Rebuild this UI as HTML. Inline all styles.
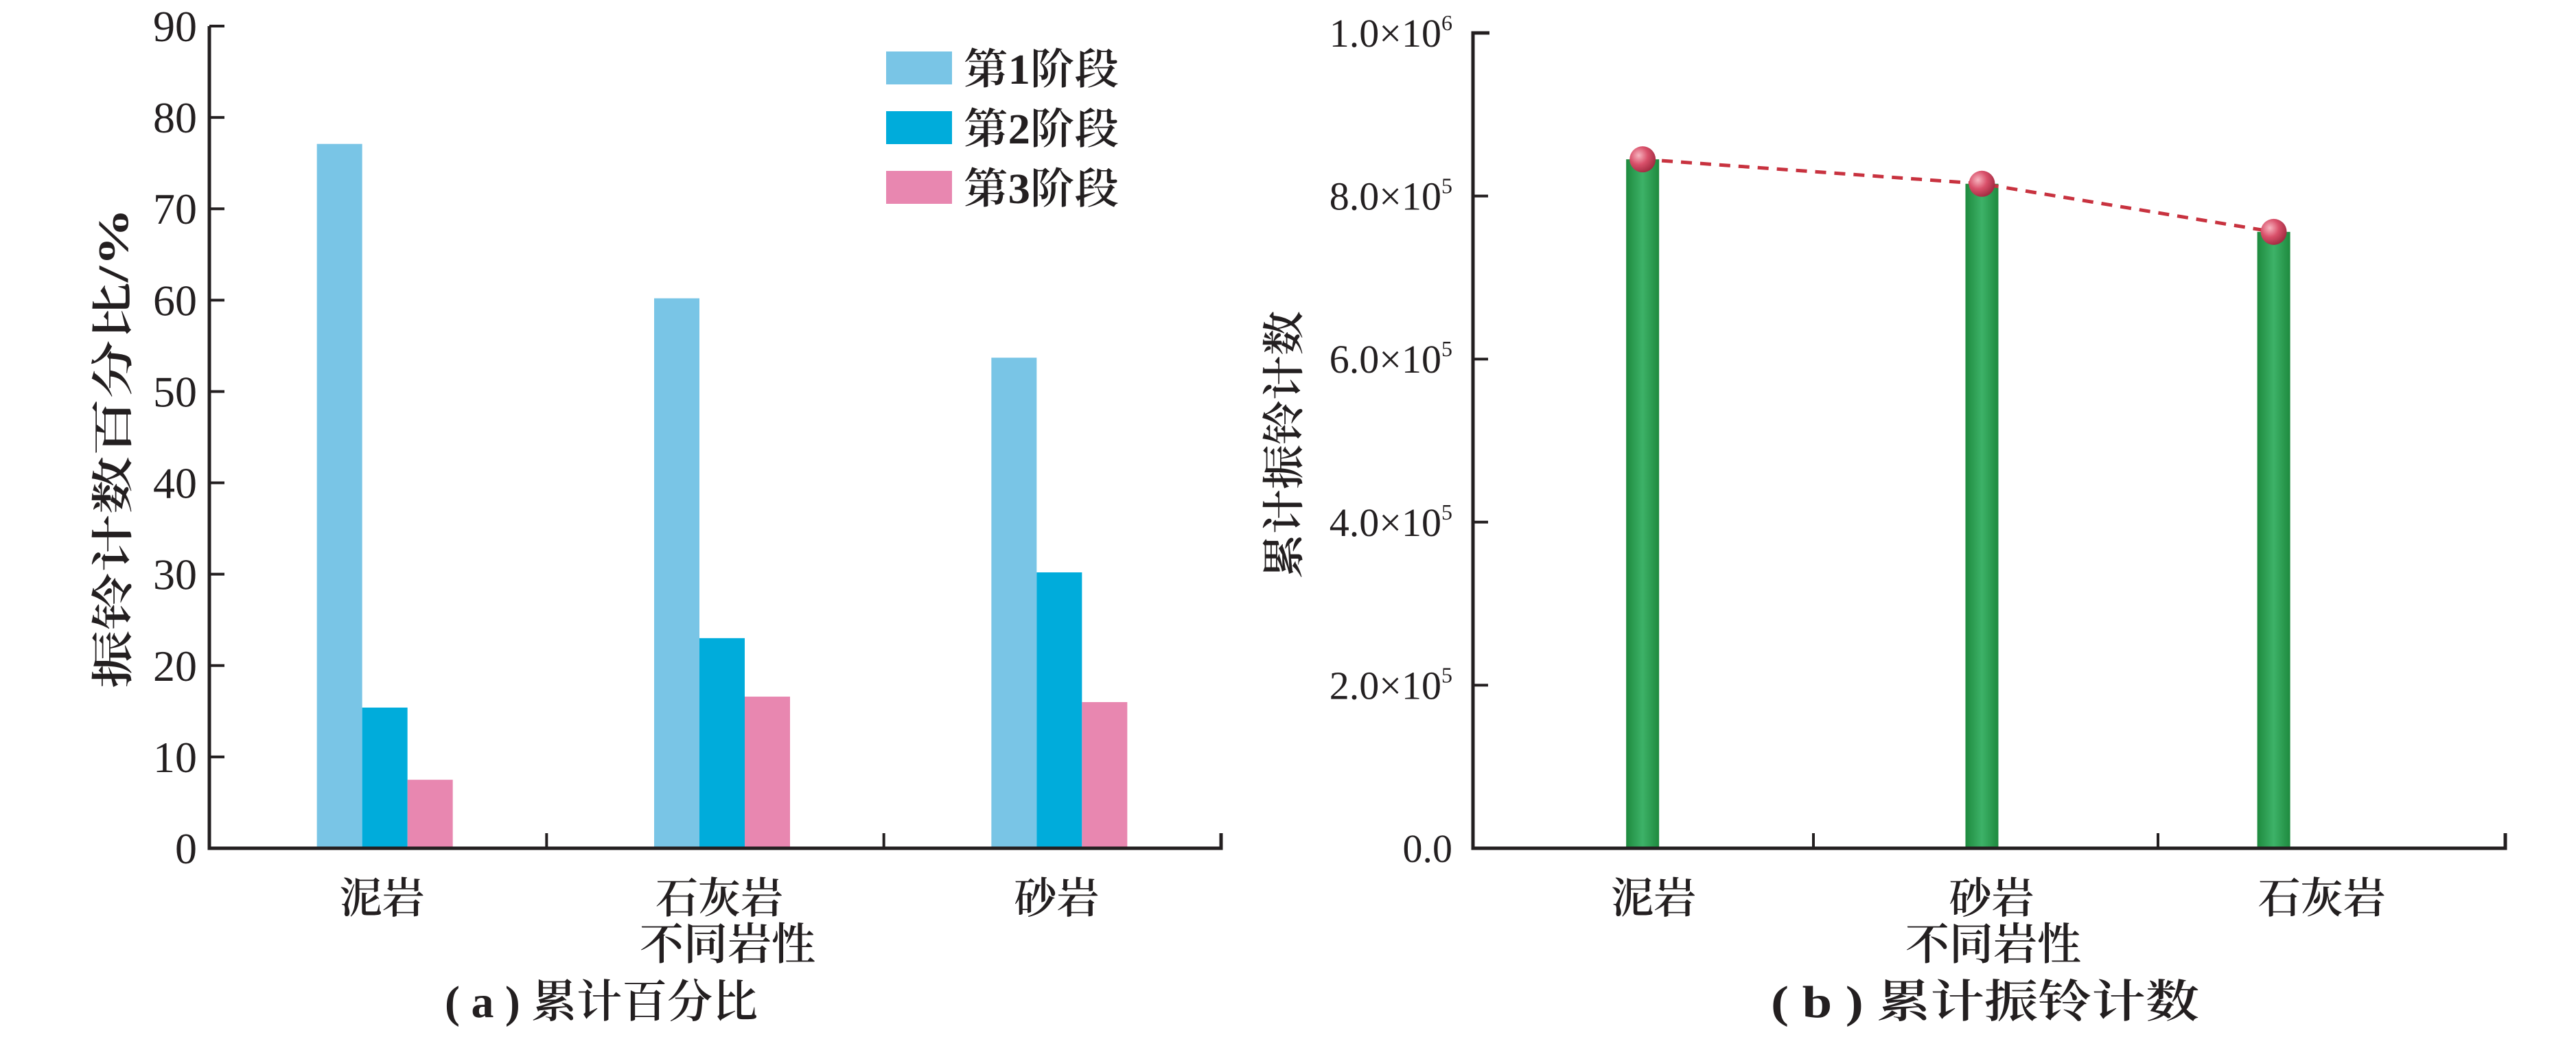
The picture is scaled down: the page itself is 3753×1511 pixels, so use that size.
<!DOCTYPE html>
<html><head><meta charset="utf-8"><style>
html,body{margin:0;padding:0;background:#fff;}
svg{display:block;}
text{font-family:"Liberation Serif","Noto Serif CJK SC",serif;fill:#231f20;font-weight:600;}
text.num{font-weight:400;}
</style></head><body>
<svg id="root" width="3753" height="1511" viewBox="0 0 3753 1511" xmlns="http://www.w3.org/2000/svg">
<defs>
<linearGradient id="gg" x1="0" x2="1" y1="0" y2="0">
<stop offset="0" stop-color="#1e8a3e"/><stop offset="0.5" stop-color="#3db268"/><stop offset="1" stop-color="#1e8a3e"/>
</linearGradient>
<radialGradient id="rg" cx="0.35" cy="0.35" r="0.7">
<stop offset="0" stop-color="#f7b5c0"/><stop offset="0.5" stop-color="#d9506a"/><stop offset="1" stop-color="#a02a40"/>
</radialGradient>
</defs>
<g id="chartA"></g>
<g id="chartB"></g>
</svg>
<script>
const catsA = ["泥岩","石灰岩","砂岩"];
const stage1 = [77.1, 60.2, 53.7];
const stage2 = [15.4, 23.0, 30.2];
const stage3 = [7.5, 16.6, 16.0];
const seriesNamesA = ["第1阶段","第2阶段","第3阶段"];
const ticksA = [0,10,20,30,40,50,60,70,80,90];

const catsB = ["泥岩","砂岩","石灰岩"];
const countsB = [845000, 815000, 756000];
const ticksB = [0, 200000, 400000, 600000, 800000, 1000000];
const tickLabelsB = [["0.0",""],["2.0×10","5"],["4.0×10","5"],["6.0×10","5"],["8.0×10","5"],["1.0×10","6"]];

const NS="http://www.w3.org/2000/svg";
function mk(parent,tag,attrs,txt){const e=document.createElementNS(NS,tag);for(const k in attrs)e.setAttribute(k,attrs[k]);if(txt!==undefined)e.textContent=txt;parent.appendChild(e);return e;}

// Chart A
(function(){
const g=document.getElementById('chartA');
const x0=305,x1=1779,y0=1236,yTop=38;
const yA=v=>y0-(v/90)*(y0-yTop);
const bw=(x1-x0)/catsA.length;
const xA=i=>x0+bw*(i+0.5)+10;
const colors=["#79c5e6","#00acdb","#e887b0"];
const series=[stage1,stage2,stage3];
const barW=66;
series.forEach((s,si)=>{s.forEach((v,i)=>{
 const r=mk(g,'rect',{x:xA(i)-1.5*barW+si*barW,y:yA(v),width:barW,height:y0-yA(v),fill:colors[si]});
 
 
});});
const ax=mk(g,'path',{d:`M${x0} ${yTop} V${y0} H${x1} V${y0-22}`,stroke:"#231f20","stroke-width":5,fill:"none"});

for(let i=1;i<catsA.length;i++){const t=mk(g,'line',{x1:x0+bw*i,x2:x0+bw*i,y1:y0,y2:y0-22,stroke:"#231f20","stroke-width":4});
 }
ticksA.forEach(v=>{
 const t=mk(g,'line',{x1:x0,x2:x0+22,y1:yA(v),y2:yA(v),stroke:"#231f20","stroke-width":4});
 
 const l=mk(g,'text',{class:"num",x:x0-18,y:yA(v)+22,"text-anchor":"end","font-size":64},String(v));
 
});
catsA.forEach((c,i)=>{const l=mk(g,'text',{x:xA(i)-4,y:1330,"text-anchor":"middle","font-size":62},c);
 });
let t=mk(g,'text',{x:1060,y:1398,"text-anchor":"middle","font-size":64},"不同岩性");

t=mk(g,'text',{x:876,y:1482,"text-anchor":"middle","font-size":66,textLength:456,lengthAdjust:"spacingAndGlyphs"},"( a ) 累计百分比");

t=mk(g,'text',{x:0,y:0,"text-anchor":"middle","font-size":62,textLength:700,lengthAdjust:"spacingAndGlyphs",transform:"translate(186,653) rotate(-90)"},"振铃计数百分比/%");

seriesNamesA.forEach((n,si)=>{
 const y=75+si*87;
 const r=mk(g,'rect',{x:1291,y:y,width:96,height:48,fill:colors[si]});
 
 const l=mk(g,'text',{x:1404,y:y+47,"font-size":62,textLength:226,lengthAdjust:"spacingAndGlyphs"},n);
 
});
})();

// Chart B
(function(){
const g=document.getElementById('chartB');
const x0=2146,x1=3650,y0=1236,yTop=48;
const yB=v=>y0-(v/1000000)*(y0-yTop);
const bandCenters=[0.493,1.479,2.327];
const labelShift=[16,14,70];
const bw=(x1-x0)/catsB.length;
const xB=i=>x0+bw*bandCenters[i];
const barW=48;
countsB.forEach((v,i)=>{
 const r=mk(g,'rect',{x:xB(i)-barW/2,y:yB(v),width:barW,height:y0-yB(v),fill:"url(#gg)"});
 
});
const pts=countsB.map((v,i)=>`${xB(i)},${yB(v)}`).join(' ');
const pl=mk(g,'polyline',{points:pts,fill:"none",stroke:"#c8323f","stroke-width":5,"stroke-dasharray":"16 12"});

countsB.forEach((v,i)=>{
 const c=mk(g,'circle',{cx:xB(i),cy:yB(v),r:19,fill:"url(#rg)"});
 
});
const ax=mk(g,'path',{d:`M${x0+24} ${yTop} H${x0} V${y0} H${x1} V${y0-22}`,stroke:"#231f20","stroke-width":5,fill:"none"});

[2642,3144].forEach(x=>{const t=mk(g,'line',{x1:x,x2:x,y1:y0,y2:y0-22,stroke:"#231f20","stroke-width":4});
 });
ticksB.forEach((v,i)=>{
 const t=mk(g,'line',{x1:x0,x2:x0+22,y1:yB(v),y2:yB(v),stroke:"#231f20","stroke-width":4});
 
 const l=mk(g,'text',{class:"num",x:x0-30,y:yB(v)+20,"text-anchor":"end","font-size":58});
 
 mk(l,'tspan',{},tickLabelsB[i][0]);
 if(tickLabelsB[i][1]){mk(l,'tspan',{dy:-24,"font-size":32},tickLabelsB[i][1]);}
});
catsB.forEach((c,i)=>{const l=mk(g,'text',{x:xB(i)+labelShift[i],y:1330,"text-anchor":"middle","font-size":62},c);
 });
let t=mk(g,'text',{x:2904,y:1398,"text-anchor":"middle","font-size":64},"不同岩性");

t=mk(g,'text',{x:2892,y:1482,"text-anchor":"middle","font-size":66,textLength:624,lengthAdjust:"spacingAndGlyphs"},"( b ) 累计振铃计数");

t=mk(g,'text',{x:0,y:0,"text-anchor":"middle","font-size":62,textLength:390,lengthAdjust:"spacingAndGlyphs",transform:"translate(1892,648) rotate(-90)"},"累计振铃计数");

})();
</script>
</body></html>
